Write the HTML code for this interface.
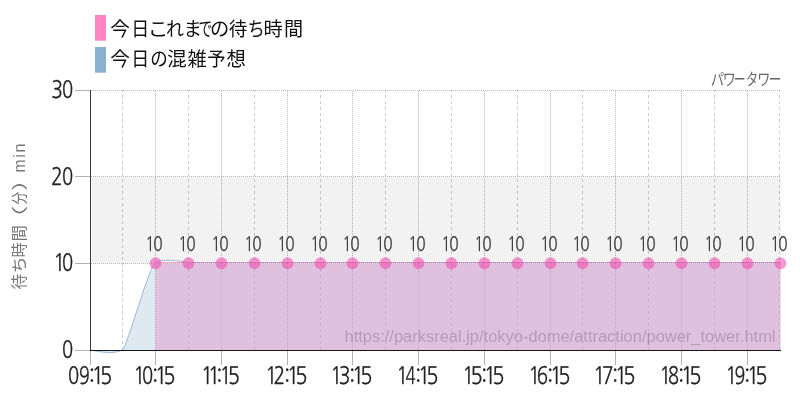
<!DOCTYPE html>
<html lang="ja"><head><meta charset="utf-8"><title>パワータワー 待ち時間</title>
<style>
html,body{margin:0;padding:0;background:#fff;}
body{width:800px;height:400px;overflow:hidden;font-family:"Liberation Sans","Noto Sans CJK JP",sans-serif;}
svg{display:block;}
.num{font-family:"NanumGothic","Liberation Sans",sans-serif;}
.jp{font-family:"Liberation Sans","Noto Sans CJK JP",sans-serif;}
.lat{font-family:"Liberation Sans","Noto Sans CJK JP",sans-serif;}
</style></head><body>
<svg width="800" height="400" viewBox="0 0 800 400">
<rect width="800" height="400" fill="#fff"/>
<rect x="92" y="176.67" width="688.7" height="86.67" fill="#000" fill-opacity="0.05"/>
<g shape-rendering="crispEdges" fill="none" stroke="#000">
<line x1="122.5" y1="350" x2="122.5" y2="90" stroke-opacity="0.2" stroke-dasharray="3 3"/>
<line x1="155.5" y1="350" x2="155.5" y2="90" stroke-opacity="0.27" stroke-dasharray="1 1"/>
<line x1="188.5" y1="350" x2="188.5" y2="90" stroke-opacity="0.2" stroke-dasharray="3 3"/>
<line x1="221.5" y1="350" x2="221.5" y2="90" stroke-opacity="0.27" stroke-dasharray="1 1"/>
<line x1="254.5" y1="350" x2="254.5" y2="90" stroke-opacity="0.2" stroke-dasharray="3 3"/>
<line x1="287.5" y1="350" x2="287.5" y2="90" stroke-opacity="0.27" stroke-dasharray="1 1"/>
<line x1="320.5" y1="350" x2="320.5" y2="90" stroke-opacity="0.2" stroke-dasharray="3 3"/>
<line x1="352.5" y1="350" x2="352.5" y2="90" stroke-opacity="0.27" stroke-dasharray="1 1"/>
<line x1="385.5" y1="350" x2="385.5" y2="90" stroke-opacity="0.2" stroke-dasharray="3 3"/>
<line x1="418.5" y1="350" x2="418.5" y2="90" stroke-opacity="0.27" stroke-dasharray="1 1"/>
<line x1="451.5" y1="350" x2="451.5" y2="90" stroke-opacity="0.2" stroke-dasharray="3 3"/>
<line x1="484.5" y1="350" x2="484.5" y2="90" stroke-opacity="0.27" stroke-dasharray="1 1"/>
<line x1="517.5" y1="350" x2="517.5" y2="90" stroke-opacity="0.2" stroke-dasharray="3 3"/>
<line x1="550.5" y1="350" x2="550.5" y2="90" stroke-opacity="0.27" stroke-dasharray="1 1"/>
<line x1="582.5" y1="350" x2="582.5" y2="90" stroke-opacity="0.2" stroke-dasharray="3 3"/>
<line x1="615.5" y1="350" x2="615.5" y2="90" stroke-opacity="0.27" stroke-dasharray="1 1"/>
<line x1="648.5" y1="350" x2="648.5" y2="90" stroke-opacity="0.2" stroke-dasharray="3 3"/>
<line x1="681.5" y1="350" x2="681.5" y2="90" stroke-opacity="0.27" stroke-dasharray="1 1"/>
<line x1="714.5" y1="350" x2="714.5" y2="90" stroke-opacity="0.2" stroke-dasharray="3 3"/>
<line x1="747.5" y1="350" x2="747.5" y2="90" stroke-opacity="0.27" stroke-dasharray="1 1"/>
<line x1="779.5" y1="350" x2="779.5" y2="90" stroke-opacity="0.2" stroke-dasharray="3 3"/>
<line x1="91" y1="90.5" x2="780" y2="90.5" stroke-opacity="0.27" stroke-dasharray="1 1"/>
<line x1="91" y1="176.5" x2="780" y2="176.5" stroke-opacity="0.27" stroke-dasharray="1 1"/>
<line x1="91" y1="263.5" x2="780" y2="263.5" stroke-opacity="0.27" stroke-dasharray="1 1"/>
</g>
<path d="M155.5,263.68 L780.5,263.68 L780.5,350 L155.5,350 Z" fill="#FF85C5" fill-opacity="0.45"/>
<path d="M90.5,350 C100,352 114,354.5 122.5,350 C126.75,347.75 150,263 155.5,263.68 L780.5,263.68 L780.5,350 L90.5,350 Z" fill="#8BAFD0" fill-opacity="0.28"/>
<line x1="160" y1="261.5" x2="780.5" y2="261.5" stroke="#fff" stroke-opacity="0.55"/>
<line x1="155.5" y1="262.5" x2="189" y2="262.5" stroke="#FF69B4" stroke-opacity="0.65"/>
<line x1="189" y1="262.5" x2="780.5" y2="262.5" stroke="#C88CC8"/>
<path d="M90.5,350 C100,352 114,354.5 122.5,350 C126.75,347.75 150,263 155.5,262.80 C161,259.2 172,259.6 189,262.5" fill="none" stroke="#8BAFD0" stroke-width="0.9" stroke-opacity="0.95"/>
<text class="lat" x="344.5" y="342" font-size="16" fill="#000" fill-opacity="0.2" textLength="431" lengthAdjust="spacingAndGlyphs">https://parksreal.jp/tokyo-dome/attraction/power_tower.html</text>
<g shape-rendering="crispEdges">
<line x1="75" y1="90.5" x2="90" y2="90.5" stroke="#000" stroke-opacity="0.3"/>
<line x1="75" y1="176.5" x2="90" y2="176.5" stroke="#000" stroke-opacity="0.3"/>
<line x1="75" y1="263.5" x2="90" y2="263.5" stroke="#000" stroke-opacity="0.3"/>
<line x1="75" y1="350.5" x2="90" y2="350.5" stroke="#000" stroke-opacity="0.3"/>
<line x1="90.5" y1="351" x2="90.5" y2="365" stroke="#000" stroke-opacity="0.3"/>
<line x1="155.5" y1="351" x2="155.5" y2="365" stroke="#000" stroke-opacity="0.3"/>
<line x1="221.5" y1="351" x2="221.5" y2="365" stroke="#000" stroke-opacity="0.3"/>
<line x1="287.5" y1="351" x2="287.5" y2="365" stroke="#000" stroke-opacity="0.3"/>
<line x1="352.5" y1="351" x2="352.5" y2="365" stroke="#000" stroke-opacity="0.3"/>
<line x1="418.5" y1="351" x2="418.5" y2="365" stroke="#000" stroke-opacity="0.3"/>
<line x1="484.5" y1="351" x2="484.5" y2="365" stroke="#000" stroke-opacity="0.3"/>
<line x1="550.5" y1="351" x2="550.5" y2="365" stroke="#000" stroke-opacity="0.3"/>
<line x1="615.5" y1="351" x2="615.5" y2="365" stroke="#000" stroke-opacity="0.3"/>
<line x1="681.5" y1="351" x2="681.5" y2="365" stroke="#000" stroke-opacity="0.3"/>
<line x1="747.5" y1="351" x2="747.5" y2="365" stroke="#000" stroke-opacity="0.3"/>
<line x1="90.5" y1="90" x2="90.5" y2="351" stroke="#3a3a3a"/>
<line x1="90" y1="350.5" x2="781" y2="350.5" stroke="#151515"/>
</g>
<g fill="#F248AC" fill-opacity="0.56">
<circle cx="155.5" cy="263.23" r="5.9"/>
<circle cx="188.5" cy="263.23" r="5.9"/>
<circle cx="221.5" cy="263.23" r="5.9"/>
<circle cx="254.5" cy="263.23" r="5.9"/>
<circle cx="287.5" cy="263.23" r="5.9"/>
<circle cx="320.5" cy="263.23" r="5.9"/>
<circle cx="352.5" cy="263.23" r="5.9"/>
<circle cx="385.5" cy="263.23" r="5.9"/>
<circle cx="418.5" cy="263.23" r="5.9"/>
<circle cx="451.5" cy="263.23" r="5.9"/>
<circle cx="484.5" cy="263.23" r="5.9"/>
<circle cx="517.5" cy="263.23" r="5.9"/>
<circle cx="550.5" cy="263.23" r="5.9"/>
<circle cx="582.5" cy="263.23" r="5.9"/>
<circle cx="615.5" cy="263.23" r="5.9"/>
<circle cx="648.5" cy="263.23" r="5.9"/>
<circle cx="681.5" cy="263.23" r="5.9"/>
<circle cx="714.5" cy="263.23" r="5.9"/>
<circle cx="747.5" cy="263.23" r="5.9"/>
<circle cx="780.5" cy="263.23" r="5.9"/>
</g>
<g class="num" text-rendering="geometricPrecision" font-size="20" fill="#383838" stroke="#383838" stroke-width="0.2">
<text y="250.8"><tspan x="145.60" textLength="8.94" lengthAdjust="spacingAndGlyphs">1</tspan><tspan x="153.15" textLength="9.40" lengthAdjust="spacingAndGlyphs">0</tspan></text>
<text y="250.8"><tspan x="178.60" textLength="8.94" lengthAdjust="spacingAndGlyphs">1</tspan><tspan x="186.15" textLength="9.40" lengthAdjust="spacingAndGlyphs">0</tspan></text>
<text y="250.8"><tspan x="211.60" textLength="8.94" lengthAdjust="spacingAndGlyphs">1</tspan><tspan x="219.15" textLength="9.40" lengthAdjust="spacingAndGlyphs">0</tspan></text>
<text y="250.8"><tspan x="244.60" textLength="8.94" lengthAdjust="spacingAndGlyphs">1</tspan><tspan x="252.15" textLength="9.40" lengthAdjust="spacingAndGlyphs">0</tspan></text>
<text y="250.8"><tspan x="277.60" textLength="8.94" lengthAdjust="spacingAndGlyphs">1</tspan><tspan x="285.15" textLength="9.40" lengthAdjust="spacingAndGlyphs">0</tspan></text>
<text y="250.8"><tspan x="310.60" textLength="8.94" lengthAdjust="spacingAndGlyphs">1</tspan><tspan x="318.15" textLength="9.40" lengthAdjust="spacingAndGlyphs">0</tspan></text>
<text y="250.8"><tspan x="342.60" textLength="8.94" lengthAdjust="spacingAndGlyphs">1</tspan><tspan x="350.15" textLength="9.40" lengthAdjust="spacingAndGlyphs">0</tspan></text>
<text y="250.8"><tspan x="375.60" textLength="8.94" lengthAdjust="spacingAndGlyphs">1</tspan><tspan x="383.15" textLength="9.40" lengthAdjust="spacingAndGlyphs">0</tspan></text>
<text y="250.8"><tspan x="408.60" textLength="8.94" lengthAdjust="spacingAndGlyphs">1</tspan><tspan x="416.15" textLength="9.40" lengthAdjust="spacingAndGlyphs">0</tspan></text>
<text y="250.8"><tspan x="441.60" textLength="8.94" lengthAdjust="spacingAndGlyphs">1</tspan><tspan x="449.15" textLength="9.40" lengthAdjust="spacingAndGlyphs">0</tspan></text>
<text y="250.8"><tspan x="474.60" textLength="8.94" lengthAdjust="spacingAndGlyphs">1</tspan><tspan x="482.15" textLength="9.40" lengthAdjust="spacingAndGlyphs">0</tspan></text>
<text y="250.8"><tspan x="507.60" textLength="8.94" lengthAdjust="spacingAndGlyphs">1</tspan><tspan x="515.15" textLength="9.40" lengthAdjust="spacingAndGlyphs">0</tspan></text>
<text y="250.8"><tspan x="540.60" textLength="8.94" lengthAdjust="spacingAndGlyphs">1</tspan><tspan x="548.15" textLength="9.40" lengthAdjust="spacingAndGlyphs">0</tspan></text>
<text y="250.8"><tspan x="572.60" textLength="8.94" lengthAdjust="spacingAndGlyphs">1</tspan><tspan x="580.15" textLength="9.40" lengthAdjust="spacingAndGlyphs">0</tspan></text>
<text y="250.8"><tspan x="605.60" textLength="8.94" lengthAdjust="spacingAndGlyphs">1</tspan><tspan x="613.15" textLength="9.40" lengthAdjust="spacingAndGlyphs">0</tspan></text>
<text y="250.8"><tspan x="638.60" textLength="8.94" lengthAdjust="spacingAndGlyphs">1</tspan><tspan x="646.15" textLength="9.40" lengthAdjust="spacingAndGlyphs">0</tspan></text>
<text y="250.8"><tspan x="671.60" textLength="8.94" lengthAdjust="spacingAndGlyphs">1</tspan><tspan x="679.15" textLength="9.40" lengthAdjust="spacingAndGlyphs">0</tspan></text>
<text y="250.8"><tspan x="704.60" textLength="8.94" lengthAdjust="spacingAndGlyphs">1</tspan><tspan x="712.15" textLength="9.40" lengthAdjust="spacingAndGlyphs">0</tspan></text>
<text y="250.8"><tspan x="737.60" textLength="8.94" lengthAdjust="spacingAndGlyphs">1</tspan><tspan x="745.15" textLength="9.40" lengthAdjust="spacingAndGlyphs">0</tspan></text>
<text y="250.8"><tspan x="770.60" textLength="8.94" lengthAdjust="spacingAndGlyphs">1</tspan><tspan x="778.15" textLength="9.40" lengthAdjust="spacingAndGlyphs">0</tspan></text>
</g>
<g class="num" text-rendering="geometricPrecision" font-size="24" fill="#222" stroke="#222" stroke-width="0.3">
<text y="98"><tspan x="51.16" textLength="11.74" lengthAdjust="spacingAndGlyphs">3</tspan><tspan x="61.92" textLength="11.19" lengthAdjust="spacingAndGlyphs">0</tspan></text>
<text y="185"><tspan x="50.90" textLength="11.72" lengthAdjust="spacingAndGlyphs">2</tspan><tspan x="61.92" textLength="11.19" lengthAdjust="spacingAndGlyphs">0</tspan></text>
<text y="271.4"><tspan x="53.19" textLength="12.01" lengthAdjust="spacingAndGlyphs">1</tspan><tspan x="61.92" textLength="11.19" lengthAdjust="spacingAndGlyphs">0</tspan></text>
<text y="358"><tspan x="61.92" textLength="11.19" lengthAdjust="spacingAndGlyphs">0</tspan></text>
<text y="383.8"><tspan x="68.12" textLength="11.19" lengthAdjust="spacingAndGlyphs">0</tspan><tspan x="79.12" textLength="10.75" lengthAdjust="spacingAndGlyphs">9</tspan><tspan x="88.66" textLength="6.11" lengthAdjust="spacingAndGlyphs">:</tspan><tspan x="91.79" textLength="12.01" lengthAdjust="spacingAndGlyphs">1</tspan><tspan x="100.04" textLength="12.34" lengthAdjust="spacingAndGlyphs">5</tspan></text>
<text y="383.8"><tspan x="133.19" textLength="12.01" lengthAdjust="spacingAndGlyphs">1</tspan><tspan x="141.92" textLength="11.19" lengthAdjust="spacingAndGlyphs">0</tspan><tspan x="151.96" textLength="6.11" lengthAdjust="spacingAndGlyphs">:</tspan><tspan x="155.09" textLength="12.01" lengthAdjust="spacingAndGlyphs">1</tspan><tspan x="163.34" textLength="12.34" lengthAdjust="spacingAndGlyphs">5</tspan></text>
<text y="383.8"><tspan x="200.89" textLength="12.01" lengthAdjust="spacingAndGlyphs">1</tspan><tspan x="207.99" textLength="12.01" lengthAdjust="spacingAndGlyphs">1</tspan><tspan x="216.26" textLength="6.11" lengthAdjust="spacingAndGlyphs">:</tspan><tspan x="219.39" textLength="12.01" lengthAdjust="spacingAndGlyphs">1</tspan><tspan x="227.64" textLength="12.34" lengthAdjust="spacingAndGlyphs">5</tspan></text>
<text y="383.8"><tspan x="265.19" textLength="12.01" lengthAdjust="spacingAndGlyphs">1</tspan><tspan x="273.40" textLength="11.72" lengthAdjust="spacingAndGlyphs">2</tspan><tspan x="283.96" textLength="6.11" lengthAdjust="spacingAndGlyphs">:</tspan><tspan x="287.09" textLength="12.01" lengthAdjust="spacingAndGlyphs">1</tspan><tspan x="295.34" textLength="12.34" lengthAdjust="spacingAndGlyphs">5</tspan></text>
<text y="383.8"><tspan x="330.19" textLength="12.01" lengthAdjust="spacingAndGlyphs">1</tspan><tspan x="338.66" textLength="11.74" lengthAdjust="spacingAndGlyphs">3</tspan><tspan x="348.96" textLength="6.11" lengthAdjust="spacingAndGlyphs">:</tspan><tspan x="352.09" textLength="12.01" lengthAdjust="spacingAndGlyphs">1</tspan><tspan x="360.34" textLength="12.34" lengthAdjust="spacingAndGlyphs">5</tspan></text>
<text y="383.8"><tspan x="396.19" textLength="12.01" lengthAdjust="spacingAndGlyphs">1</tspan><tspan x="405.48" textLength="10.17" lengthAdjust="spacingAndGlyphs">4</tspan><tspan x="414.96" textLength="6.11" lengthAdjust="spacingAndGlyphs">:</tspan><tspan x="418.09" textLength="12.01" lengthAdjust="spacingAndGlyphs">1</tspan><tspan x="426.34" textLength="12.34" lengthAdjust="spacingAndGlyphs">5</tspan></text>
<text y="383.8"><tspan x="462.19" textLength="12.01" lengthAdjust="spacingAndGlyphs">1</tspan><tspan x="470.44" textLength="12.34" lengthAdjust="spacingAndGlyphs">5</tspan><tspan x="480.96" textLength="6.11" lengthAdjust="spacingAndGlyphs">:</tspan><tspan x="484.09" textLength="12.01" lengthAdjust="spacingAndGlyphs">1</tspan><tspan x="492.34" textLength="12.34" lengthAdjust="spacingAndGlyphs">5</tspan></text>
<text y="383.8"><tspan x="528.19" textLength="12.01" lengthAdjust="spacingAndGlyphs">1</tspan><tspan x="536.78" textLength="11.35" lengthAdjust="spacingAndGlyphs">6</tspan><tspan x="546.96" textLength="6.11" lengthAdjust="spacingAndGlyphs">:</tspan><tspan x="550.09" textLength="12.01" lengthAdjust="spacingAndGlyphs">1</tspan><tspan x="558.34" textLength="12.34" lengthAdjust="spacingAndGlyphs">5</tspan></text>
<text y="383.8"><tspan x="593.19" textLength="12.01" lengthAdjust="spacingAndGlyphs">1</tspan><tspan x="601.66" textLength="12.00" lengthAdjust="spacingAndGlyphs">7</tspan><tspan x="611.96" textLength="6.11" lengthAdjust="spacingAndGlyphs">:</tspan><tspan x="615.09" textLength="12.01" lengthAdjust="spacingAndGlyphs">1</tspan><tspan x="623.34" textLength="12.34" lengthAdjust="spacingAndGlyphs">5</tspan></text>
<text y="383.8"><tspan x="659.19" textLength="12.01" lengthAdjust="spacingAndGlyphs">1</tspan><tspan x="667.99" textLength="11.03" lengthAdjust="spacingAndGlyphs">8</tspan><tspan x="677.96" textLength="6.11" lengthAdjust="spacingAndGlyphs">:</tspan><tspan x="681.09" textLength="12.01" lengthAdjust="spacingAndGlyphs">1</tspan><tspan x="689.34" textLength="12.34" lengthAdjust="spacingAndGlyphs">5</tspan></text>
<text y="383.8"><tspan x="725.19" textLength="12.01" lengthAdjust="spacingAndGlyphs">1</tspan><tspan x="734.42" textLength="10.75" lengthAdjust="spacingAndGlyphs">9</tspan><tspan x="743.96" textLength="6.11" lengthAdjust="spacingAndGlyphs">:</tspan><tspan x="747.09" textLength="12.01" lengthAdjust="spacingAndGlyphs">1</tspan><tspan x="755.34" textLength="12.34" lengthAdjust="spacingAndGlyphs">5</tspan></text>
</g>
<text class="jp" y="85" font-size="15.5" fill="#666"><tspan x="710.64" textLength="13.38" lengthAdjust="spacingAndGlyphs">パ</tspan><tspan x="722.76" textLength="13.17" lengthAdjust="spacingAndGlyphs">ワ</tspan><tspan x="733.78" textLength="11.95" lengthAdjust="spacingAndGlyphs">ー</tspan><tspan x="745.88" textLength="12.16" lengthAdjust="spacingAndGlyphs">タ</tspan><tspan x="757.26" textLength="13.17" lengthAdjust="spacingAndGlyphs">ワ</tspan><tspan x="768.72" textLength="12.58" lengthAdjust="spacingAndGlyphs">ー</tspan></text>
<text transform="translate(24.7,290) rotate(-90)" font-size="16" fill="#777" y="0"><tspan class="jp"><tspan x="0.55" textLength="15.65" lengthAdjust="spacingAndGlyphs">待</tspan><tspan x="16.49" textLength="17.07" lengthAdjust="spacingAndGlyphs">ち</tspan><tspan x="32.45" textLength="15.09" lengthAdjust="spacingAndGlyphs">時</tspan><tspan x="48.52" textLength="16.46" lengthAdjust="spacingAndGlyphs">間</tspan><tspan x="58.35" textLength="26.25" lengthAdjust="spacingAndGlyphs">（</tspan><tspan x="85.30" textLength="13.00" lengthAdjust="spacingAndGlyphs">分</tspan><tspan x="99.25" textLength="21.81" lengthAdjust="spacingAndGlyphs">）</tspan></tspan><tspan class="lat" x="110"> </tspan><tspan class="lat" font-size="16.4"><tspan x="117.46" textLength="13.08" lengthAdjust="spacingAndGlyphs">m</tspan><tspan x="132.16" textLength="3.79" lengthAdjust="spacingAndGlyphs">i</tspan><tspan x="137.17" textLength="9.43" lengthAdjust="spacingAndGlyphs">n</tspan></tspan></text>
<rect x="95" y="15" width="11" height="25.7" fill="#FF85C5"/>
<rect x="95" y="47" width="11" height="25.7" fill="#8BAFD0"/>
<text class="jp" y="36.1" font-size="19.8" fill="#111"><tspan x="110.31" textLength="19.72" lengthAdjust="spacingAndGlyphs">今</tspan><tspan x="131.23" textLength="17.99" lengthAdjust="spacingAndGlyphs">日</tspan><tspan x="147.82" textLength="20.69" lengthAdjust="spacingAndGlyphs">こ</tspan><tspan x="165.93" textLength="18.04" lengthAdjust="spacingAndGlyphs">れ</tspan><tspan x="183.50" textLength="18.42" lengthAdjust="spacingAndGlyphs">ま</tspan><tspan x="198.60" textLength="13.90" lengthAdjust="spacingAndGlyphs">で</tspan><tspan x="210.10" textLength="19.27" lengthAdjust="spacingAndGlyphs">の</tspan><tspan x="228.71" textLength="18.60" lengthAdjust="spacingAndGlyphs">待</tspan><tspan x="247.56" textLength="17.34" lengthAdjust="spacingAndGlyphs">ち</tspan><tspan x="263.49" textLength="19.26" lengthAdjust="spacingAndGlyphs">時</tspan><tspan x="283.98" textLength="19.13" lengthAdjust="spacingAndGlyphs">間</tspan></text>
<text class="jp" y="65.9" font-size="19.8" fill="#111"><tspan x="110.31" textLength="19.72" lengthAdjust="spacingAndGlyphs">今</tspan><tspan x="131.13" textLength="17.99" lengthAdjust="spacingAndGlyphs">日</tspan><tspan x="150.35" textLength="17.56" lengthAdjust="spacingAndGlyphs">の</tspan><tspan x="167.36" textLength="19.42" lengthAdjust="spacingAndGlyphs">混</tspan><tspan x="187.40" textLength="19.21" lengthAdjust="spacingAndGlyphs">雑</tspan><tspan x="207.22" textLength="18.44" lengthAdjust="spacingAndGlyphs">予</tspan><tspan x="226.48" textLength="19.44" lengthAdjust="spacingAndGlyphs">想</tspan></text>
</svg></body></html>
